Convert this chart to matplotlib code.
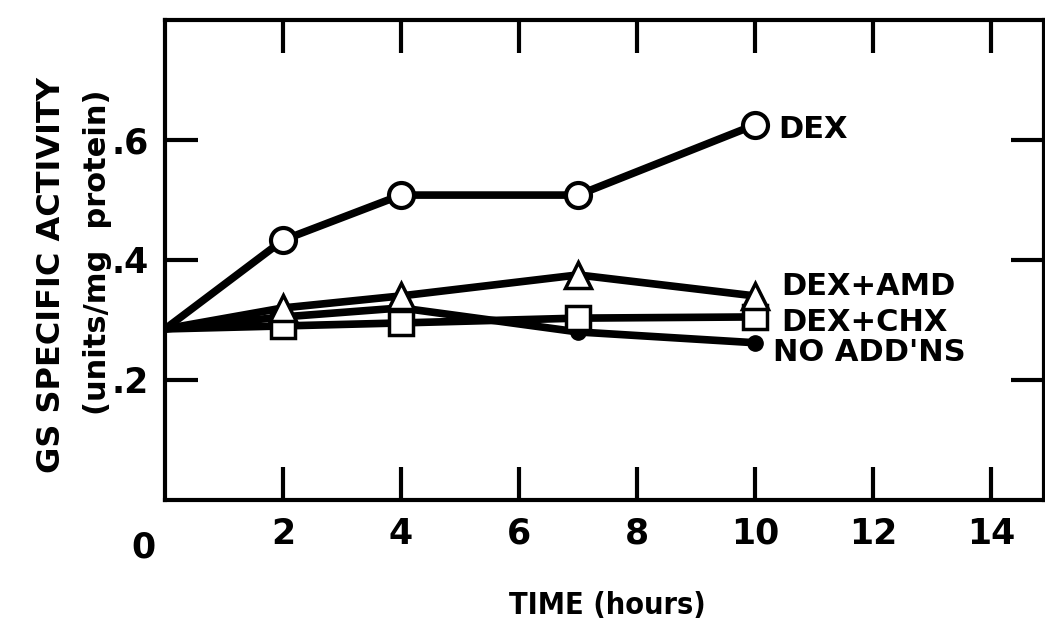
import numpy as np
import matplotlib.pyplot as plt

hours = [0, 2, 4, 7, 10]
dex = [0.285, 0.433, 0.508, 0.508, 0.625]
dex_amd = [0.285, 0.32, 0.34, 0.375, 0.34]
dex_chx = [0.285, 0.29, 0.295, 0.303, 0.305]
no_adds = [0.285, 0.305, 0.32, 0.28, 0.262]

x_ticks = [2, 4, 6, 8, 10, 12, 14]
y_ticks = [0.2, 0.4, 0.6]
y_labels = [".2", ".4", ".6"]

plt.rcParams["font.family"] = ["DejaVu Sans"]
plt.rcParams["font.weight"] = "bold"

fig = plt.figure(figsize=(10.45, 6.31), dpi=100)
ax = fig.add_axes([0.158, 0.2076, 0.841, 0.761])

lw = 5.5
pts = [1, 2, 3, 4]
ax.plot(hours, no_adds, color="black", lw=lw, marker="o", ms=11,
        mfc="black", mec="black", zorder=2, markevery=pts)
ax.plot(hours, dex_chx, color="black", lw=lw, marker="s", ms=17,
        mfc="white", mec="black", mew=2.5, zorder=3, markevery=pts)
ax.plot(hours, dex_amd, color="black", lw=lw, marker="^", ms=19,
        mfc="white", mec="black", mew=2.5, zorder=4, markevery=pts)
ax.plot(hours, dex, color="black", lw=lw, marker="o", ms=18,
        mfc="white", mec="black", mew=3, zorder=5, markevery=pts)

lab = dict(fontsize=22, fontweight="bold", va="center", ha="left")
ax.text(10.4, 0.617, "DEX", **lab)
ax.text(10.45, 0.355, "DEX+AMD", **lab)
ax.text(10.45, 0.296, "DEX+CHX", **lab)
ax.text(10.3, 0.245, "NO ADD'NS", **lab)

ax.set_xlim(0, 14.9)
ax.set_ylim(0, 0.8)
ax.set_xticks(x_ticks)
ax.set_xticklabels([str(t) for t in x_ticks])
ax.set_yticks(y_ticks)
ax.set_yticklabels(y_labels)
ax.tick_params(direction="in", length=24, width=3, top=True, right=True,
               labelsize=25, pad=12)
for lbl in ax.get_xticklabels() + ax.get_yticklabels():
    lbl.set_fontweight("bold")
for s in ax.spines.values():
    s.set_linewidth(3)

fig.text(143 / 1045, 1 - 548 / 631, "0", fontsize=25, fontweight="bold",
         ha="center", va="center")
fig.text(607 / 1045, 1 - 605 / 631, "TIME (hours)", fontsize=22,
         fontweight="bold", fontstretch="condensed", ha="center", va="center")
fig.text(52 / 1045, 1 - 275 / 631, "GS SPECIFIC ACTIVITY", fontsize=23,
         fontweight="bold", rotation=90, ha="center", va="center")
fig.text(98 / 1045, 1 - 252 / 631, "(units/mg  protein)", fontsize=22,
         fontweight="bold", rotation=90, ha="center", va="center")

fig.savefig("out.png", dpi=100)
